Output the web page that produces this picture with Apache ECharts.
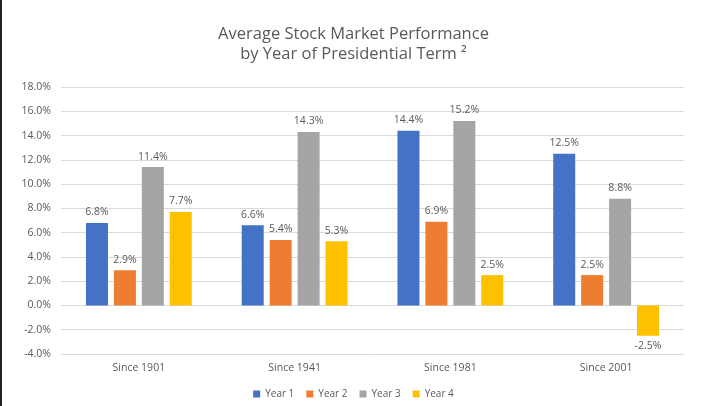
<!DOCTYPE html>
<html>
<head>
<meta charset="utf-8">
<script src="https://cdn.jsdelivr.net/npm/echarts@6/dist/echarts.min.js"></script>
<style>html,body{margin:0;padding:0;background:#fff;}#c{width:707px;height:406px;}</style>
</head>
<body>
<div id="c"></div>
<script>
var categories = ['Since 1901', 'Since 1941', 'Since 1981', 'Since 2001'];
var year1 = [6.8, 6.6, 14.4, 12.5];
var year2 = [2.9, 5.4, 6.9, 2.5];
var year3 = [11.4, 14.3, 15.2, 8.8];
var year4 = [7.7, 5.3, 2.5, -2.5];
var seriesNames = ['Year 1', 'Year 2', 'Year 3', 'Year 4'];
var colors = ['#4472C4', '#ED7D31', '#A5A5A5', '#FFC000'];

var chart = echarts.init(document.getElementById('c'));
var font = '"Open Sans", "Liberation Sans", sans-serif';
function mk(name, data, color) {
  return {
    name: name, type: 'bar', data: data, barWidth: 22, barGap: '27%',
    itemStyle: { color: color },
    label: { show: true, position: 'outside', formatter: function(p){ return p.value.toFixed(1) + '%'; },
      color: '#595959', fontSize: 10.5, fontFamily: font, distance: 5 }
  };
}
chart.setOption({
  animation: false,
  color: colors,
  title: {
    text: 'Average Stock Market Performance\nby Year of Presidential Term \u00b2',
    left: 'center', top: 19,
    textStyle: { color: '#595959', fontSize: 16.5, fontWeight: 'normal', fontFamily: font, lineHeight: 20 }
  },
  legend: {
    data: seriesNames, bottom: 2, left: 'center', itemWidth: 7, itemHeight: 7, itemGap: 12,
    icon: 'rect',
    textStyle: { color: '#595959', fontSize: 10, fontFamily: font }
  },
  grid: { left: 61, right: 23, top: 87, bottom: 52 },
  xAxis: {
    type: 'category', data: categories,
    axisLine: { show: false, onZero: false },
    axisTick: { show: false },
    axisLabel: { color: '#595959', fontSize: 10.5, fontFamily: font, margin: 9 }
  },
  yAxis: {
    type: 'value', min: -4, max: 18, interval: 2,
    axisLabel: { formatter: function(v){ return v.toFixed(1) + '%'; }, color: '#595959', fontSize: 10.5, fontFamily: font, margin: 10 },
    splitLine: { lineStyle: { color: '#D9D9D9', width: 1 } },
    axisLine: { show: false }, axisTick: { show: false }
  },
  graphic: [{ type: 'rect', shape: { x: 0, y: 0, width: 2, height: 406 }, style: { fill: '#222' } }],
  series: [mk(seriesNames[0], year1, colors[0]), mk(seriesNames[1], year2, colors[1]), mk(seriesNames[2], year3, colors[2]), mk(seriesNames[3], year4, colors[3])]
});
</script>
</body>
</html>
